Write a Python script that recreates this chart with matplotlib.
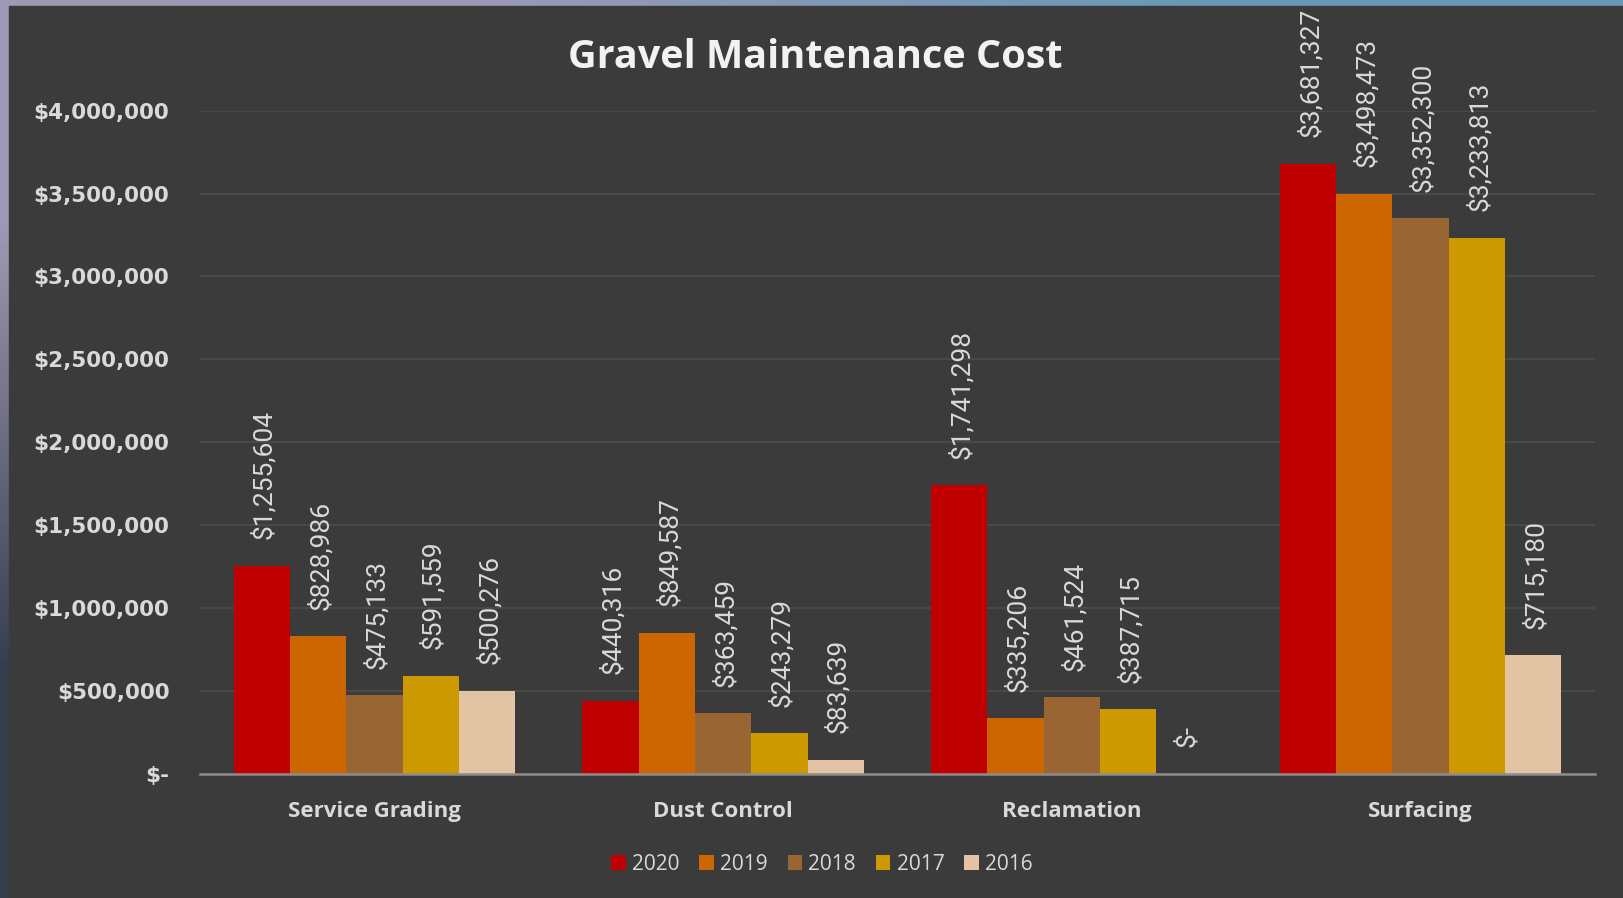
import matplotlib
matplotlib.use("Agg")
import matplotlib.pyplot as plt
import numpy as np
from matplotlib.patches import Rectangle

categories = ["Service Grading", "Dust Control", "Reclamation", "Surfacing"]
years = ["2020", "2019", "2018", "2017", "2016"]
v2020 = [1255604, 440316, 1741298, 3681327]
v2019 = [828986, 849587, 335206, 3498473]
v2018 = [475133, 363459, 461524, 3352300]
v2017 = [591559, 243279, 387715, 3233813]
v2016 = [500276, 83639, 0, 715180]
series = [v2020, v2019, v2018, v2017, v2016]
colors = ["#c00000", "#cc6600", "#996633", "#cc9900", "#e2c4a4"]
yticks = [0, 500000, 1000000, 1500000, 2000000, 2500000, 3000000, 3500000, 4000000]

W, H = 1623, 898
fig = plt.figure(figsize=(W / 100, H / 100), dpi=100)

# background gradient frame
bg = fig.add_axes([0, 0, 1, 1], zorder=-10)
grad = np.array([[[0.63, 0.60, 0.71], [0.40, 0.60, 0.72]],
                 [[0.20, 0.24, 0.30], [0.23, 0.23, 0.23]]])
bg.imshow(grad, extent=[0, 1, 0, 1], aspect="auto", interpolation="bilinear")
bg.add_patch(Rectangle((9 / W, 0), 1, 1 - 6 / H, color="#3b3b3b"))
bg.set_xlim(0, 1)
bg.set_ylim(0, 1)
bg.axis("off")

x0, x1 = 200, 1595
yb, yt = 773.7, 110.7
ax = fig.add_axes([x0 / W, (H - yb) / H, (x1 - x0) / W, (yb - yt) / H])
ax.set_facecolor("none")

n = len(series)
bw = 0.1615
x = np.arange(len(categories))
lbl_font = "Roboto"
for i, (vals, c, yr) in enumerate(zip(series, colors, years)):
    pos = x + (i - (n - 1) / 2) * bw
    ax.bar(pos, vals, width=bw, color=c, label=yr, zorder=3)
    for p, v in zip(pos, vals):
        txt = "$-" if v == 0 else f"${v:,.0f}"
        ax.annotate(txt, (p, v), xytext=(1.5, 19), textcoords="offset points",
                    rotation=90, ha="center", va="bottom", color="#d9d9d9",
                    fontsize=19, family=lbl_font, annotation_clip=False)

ax.set_xlim(-0.5, 3.5)
ax.set_ylim(0, 4000000)
ax.set_yticks(yticks)
ax.set_yticklabels(["$-" if t == 0 else f"${t:,.0f}" for t in yticks],
                   fontsize=15.5, fontweight="bold", family="DejaVu Sans",
                   color="#d9d9d9")
ax.set_xticks(x)
ax.set_xticklabels(categories, fontsize=16, fontweight="bold", family="Open Sans",
                   color="#d9d9d9")
ax.tick_params(axis="both", length=0)
ax.tick_params(axis="y", pad=22)
ax.tick_params(axis="x", pad=19.5)
ax.grid(axis="y", color="#4d4d4d", lw=1.2, zorder=0)
for s in ["left", "right", "top"]:
    ax.spines[s].set_visible(False)
ax.spines["bottom"].set_color("#8c8c8c")
ax.spines["bottom"].set_linewidth(1.8)
ax.spines["bottom"].set_zorder(4)

fig.text(815 / W, 1 - 57 / H, "Gravel Maintenance Cost", ha="center", va="center",
         fontsize=28.5, fontweight="bold", family="Open Sans", color="#f2f2f2")

leg = fig.legend(loc="center", bbox_to_anchor=(822 / W, 1 - 864 / H), ncol=5,
                 frameon=False, handlelength=0.7, handleheight=0.7,
                 handletextpad=0.3, columnspacing=0.95,
                 prop={"family": "Open Sans", "size": 15})
for t in leg.get_texts():
    t.set_color("#d9d9d9")

fig.savefig("out.png", dpi=100)
